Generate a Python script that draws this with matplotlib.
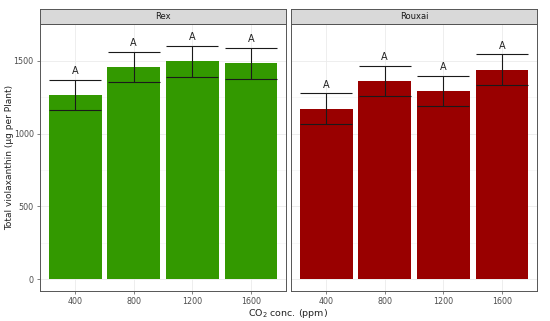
import matplotlib.pyplot as plt
import numpy as np

# data
CONC = ["400", "800", "1200", "1600"]
CULTIVARS = ["Rex", "Rouxai"]
REX_MEAN = [1265, 1460, 1497, 1483]
REX_SE = [105, 103, 105, 106]
ROUXAI_MEAN = [1170, 1362, 1293, 1440]
ROUXAI_SE = [106, 105, 105, 106]
LETTERS = ["A", "A", "A", "A"]
COLORS = {"Rex": "#339900", "Rouxai": "#990000"}

W, H = 550, 321
fig = plt.figure(figsize=(W / 100, H / 100), dpi=100)


def px(x0, y0, x1, y1):
    # pixel box (top-left origin) -> figure fraction rect
    return [x0 / W, 1 - y1 / H, (x1 - x0) / W, (y1 - y0) / H]


panels = [(40, 286), (291, 537)]
data = {"Rex": (REX_MEAN, REX_SE), "Rouxai": (ROUXAI_MEAN, ROUXAI_SE)}
x = np.arange(1, len(CONC) + 1)

for i, (cult, (x0, x1)) in enumerate(zip(CULTIVARS, panels)):
    ax = fig.add_axes(px(x0, 24, x1, 291))
    mean, se = data[cult]
    mean = np.array(mean)
    se = np.array(se)
    ax.bar(x, mean, width=0.9, color=COLORS[cult], zorder=2)
    ax.errorbar(x, mean, yerr=se, fmt="none", ecolor="#1A1A1A", elinewidth=0.8,
                capsize=18.7, capthick=0.8, zorder=3)
    for xi, m, s, lab in zip(x, mean, se, LETTERS):
        ax.text(xi, m + s + 25, lab, ha="center", va="bottom", fontsize=7,
                color="#222222", zorder=4)
    ax.set_xlim(0.4, 4.6)
    ax.set_ylim(-82.5, 1754)
    ax.set_xticks(x)
    ax.set_xticklabels(CONC)
    ax.set_yticks([0, 500, 1000, 1500])
    ax.set_yticks([250, 750, 1250], minor=True)
    ax.grid(which="major", color="#EBEBEB", lw=0.6, zorder=0)
    ax.grid(which="minor", axis="y", color="#F3F3F3", lw=0.4, zorder=0)
    ax.set_axisbelow(True)
    ax.tick_params(axis="both", which="major", labelsize=5.8, colors="#4D4D4D",
                   length=2.5, width=0.5, pad=2)
    ax.tick_params(axis="y", which="minor", length=0)
    for sp in ax.spines.values():
        sp.set_color("#555555")
        sp.set_linewidth(0.7)
    if i == 1:
        ax.tick_params(axis="y", which="both", left=False, labelleft=False)

    # facet strip
    sx = fig.add_axes(px(x0, 9, x1, 24))
    sx.set_facecolor("#D9D9D9")
    sx.set_xticks([])
    sx.set_yticks([])
    for sp in sx.spines.values():
        sp.set_color("#555555")
        sp.set_linewidth(0.7)
    sx.text(0.5, 0.5, cult, ha="center", va="center", fontsize=6,
            color="#1A1A1A", transform=sx.transAxes)

fig.text(10 / W, 1 - 157 / H, "Total violaxanthin (µg per Plant)",
         ha="center", va="center", rotation=90, fontsize=6.5, color="#222222")
fig.text(288 / W, 1 - 313 / H, "CO$_2$ conc. (ppm)", ha="center", va="center",
         fontsize=6.8, color="#222222")

fig.savefig("out.png", dpi=100)
